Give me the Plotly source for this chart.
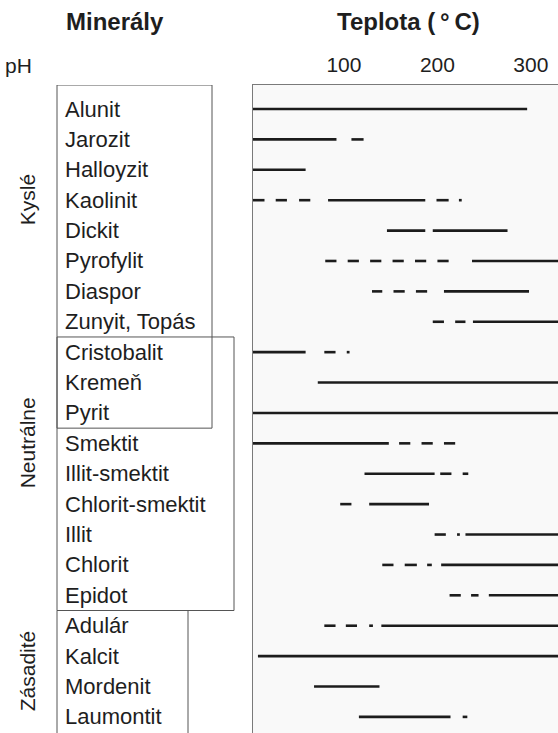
import plotly.graph_objects as go

# ---------------- data ----------------
minerals = ["Alunit", "Jarozit", "Halloyzit", "Kaolinit", "Dickit", "Pyrofylit",
            "Diaspor", "Zunyit, Topás", "Cristobalit", "Kremeň", "Pyrit", "Smektit",
            "Illit-smektit", "Chlorit-smektit", "Illit", "Chlorit", "Epidot",
            "Adulár", "Kalcit", "Mordenit", "Laumontit"]

# certain temperature ranges (°C), per mineral
solid_ranges = [
    [(0, 296)],
    [(0, 92)],
    [(0, 59)],
    [(83, 187)],
    [(146, 187), (195, 275)],
    [(237, 340)],
    [(207, 298)],
    [(238, 340)],
    [(0, 59)],
    [(72, 340)],
    [(0, 340)],
    [(0, 148)],
    [(122, 197)],
    [(127, 191)],
    [(230, 340)],
    [(204, 340)],
    [(255, 340)],
    [(140, 340)],
    [(8, 340)],
    [(68, 138)],
    [(116, 214)],
]

# uncertain temperature ranges (°C), drawn as individual dashes
dashed_ranges = [
    [],
    [(108, 121)],
    [],
    [(0, 15), (27, 39), (52, 64), (199, 212), (223, 226)],
    [],
    [(80, 92), (104, 116), (128, 140), (152, 164), (176, 188), (200, 212)],
    [(130, 141), (153, 165), (177, 189)],
    [(195, 207), (219, 230)],
    [(79, 91), (103, 106)],
    [],
    [],
    [(159, 171), (183, 195), (207, 219)],
    [(203, 215), (227, 233)],
    [(96, 108)],
    [(197, 209), (221, 224)],
    [(141, 153), (165, 178), (189, 194)],
    [(213, 225), (236, 244)],
    [(79, 91), (102, 114), (127, 131)],
    [],
    [],
    [(227, 232)],
]

# pH groups: (label, first row, last row)
ph_groups = [("Kyslé", 0, 10), ("Neutrálne", 8, 16), ("Zásadité", 17, 20)]

temp_ticks = [100, 200, 300]

# ---------------- figure ----------------
W, H = 558, 733
ML, MT = 253, 85
PW, PH = W - ML, H - MT


def px_to_paper(px):
    """window x pixel -> paper x"""
    return (px - ML) / PW


def py_to_paper(py):
    """window y pixel -> paper y"""
    return 1 + (MT - py) / PH


def build_xy(ranges_list):
    xs, ys = [], []
    for i, ranges in enumerate(ranges_list):
        for a, b in ranges:
            xs += [a, b, None]
            ys += [i, i, None]
    return xs, ys


fig = go.Figure()
line_style = dict(color="#1c1c1c", width=2.6)
for name, rl in (("jisté", solid_ranges), ("nejisté", dashed_ranges)):
    xs, ys = build_xy(rl)
    fig.add_trace(go.Scatter(x=xs, y=ys, mode="lines", line=line_style,
                             hoverinfo="skip", showlegend=False, name=name))

font_family = "Liberation Sans, Arial, Helvetica, sans-serif"
text_color = "#1e1e1e"

annotations = []
# mineral labels
for i, m in enumerate(minerals):
    annotations.append(dict(x=px_to_paper(63), y=i, xref="paper", yref="y",
                            text=m, showarrow=False, xanchor="left", yanchor="middle",
                            font=dict(size=22, color=text_color, family=font_family)))

shapes = []
box_right_px = {"Kyslé": 212, "Neutrálne": 234, "Zásadité": 188}
label_center_y = {"Kyslé": 3.0, "Neutrálne": 11.0, "Zásadité": 18.5}
for label, r0, r1 in ph_groups:
    y0 = r0 - 0.5 if r0 > 0 else -0.79
    y1 = r1 + 0.5 if r1 < len(minerals) - 1 else 21.5
    shapes.append(dict(type="rect", xref="paper", yref="y",
                       x0=px_to_paper(57), x1=px_to_paper(box_right_px[label]),
                       y0=y0, y1=y1, line=dict(color="#555555", width=1),
                       fillcolor="rgba(0,0,0,0)", layer="above"))
    annotations.append(dict(x=px_to_paper(27), y=label_center_y[label], xref="paper", yref="y",
                            text=label, showarrow=False, textangle=-90,
                            xanchor="center", yanchor="middle",
                            font=dict(size=21, color=text_color, family=font_family)))

# titles
annotations.append(dict(x=px_to_paper(115), y=py_to_paper(22), xref="paper", yref="paper",
                        text="<b>Minerály</b>", showarrow=False, xanchor="center", yanchor="middle",
                        font=dict(size=24, color=text_color, family=font_family)))
annotations.append(dict(x=px_to_paper(408), y=py_to_paper(22), xref="paper", yref="paper",
                        text="<b>Teplota (\u2009°\u2009C)</b>", showarrow=False,
                        xanchor="center", yanchor="middle",
                        font=dict(size=24, color=text_color, family=font_family)))
annotations.append(dict(x=px_to_paper(3), y=py_to_paper(65), xref="paper", yref="paper",
                        text="pH", showarrow=False, xanchor="left", yanchor="middle",
                        font=dict(size=21, color=text_color, family=font_family)))

fig.update_layout(
    width=W, height=H,
    margin=dict(l=ML, r=0, t=MT, b=0, pad=0),
    paper_bgcolor="white",
    plot_bgcolor="#f9f9f9",
    showlegend=False,
    hovermode=False,
    annotations=annotations,
    shapes=shapes,
    xaxis=dict(range=[2.7, 329], side="top", tickvals=temp_ticks,
               ticktext=[str(t) for t in temp_ticks], ticks="",
               ticklabelstandoff=3,
               showgrid=False, zeroline=False, showline=True,
               linecolor="#7a7a7a", linewidth=1.5,
               tickfont=dict(size=21, color=text_color, family=font_family)),
    yaxis=dict(range=[20.53, -0.79], showticklabels=False, ticks="",
               showgrid=False, zeroline=False, showline=True,
               linecolor="#7a7a7a", linewidth=1.5),
)

fig.write_html("out.html",
               config={"displayModeBar": False, "staticPlot": True},
               post_script="document.body.style.margin='0px';document.body.style.overflow='hidden';")
